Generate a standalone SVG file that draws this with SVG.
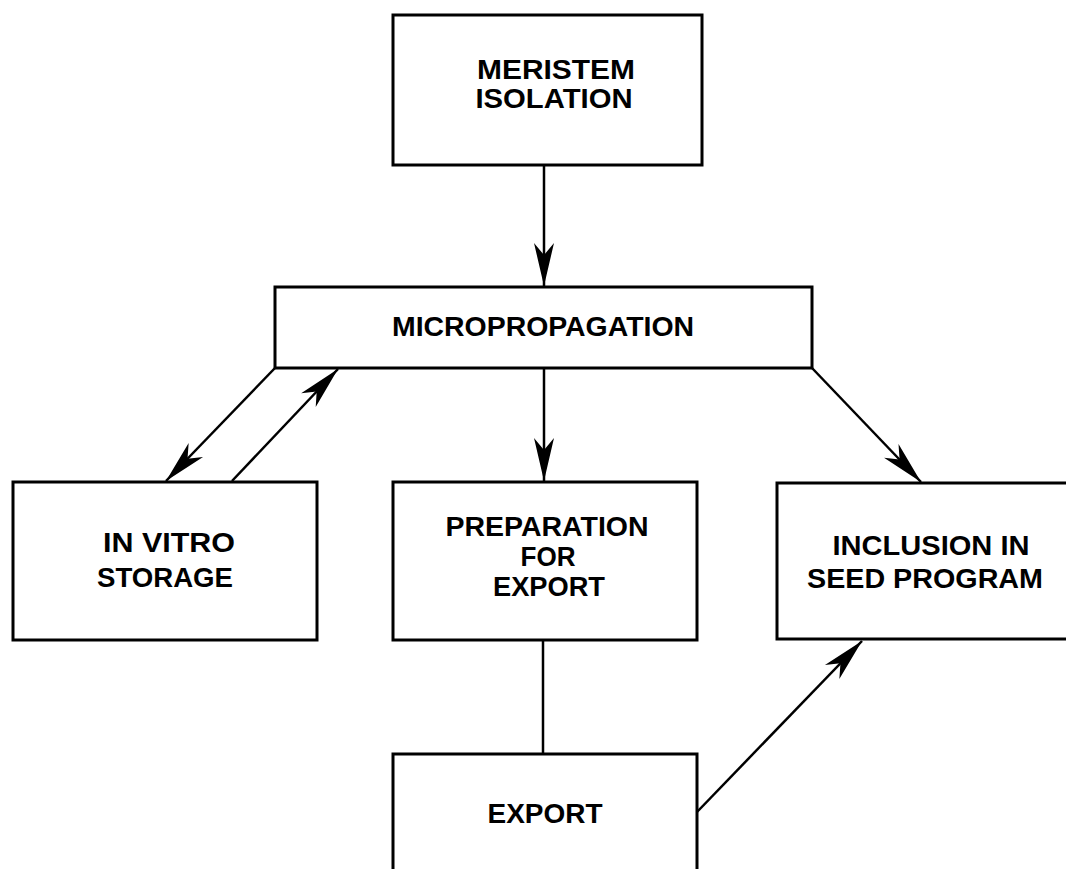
<svg xmlns="http://www.w3.org/2000/svg" width="1066" height="869" viewBox="0 0 1066 869">
  <style>
    .box { fill: #fff; stroke: #000; stroke-width: 3; }
    .lbl { font-family: "Liberation Sans", Arial, sans-serif; font-weight: bold; font-size: 27px; fill: #000; text-anchor: middle; }
    .edge { stroke: #000; stroke-width: 2.5; fill: none; }
  </style>
  <defs>
    <marker id="ah" markerUnits="userSpaceOnUse" markerWidth="48" markerHeight="24" viewBox="-46 -12 48 24" refX="0" refY="0" orient="auto">
      <path d="M0,0 L-43,-10 L-31,0 L-43,10 Z" fill="#000"/>
    </marker>
  </defs>
  <rect width="1066" height="869" fill="#fff"/>

  <g id="connectors">
    <line class="edge" x1="544" y1="165" x2="544" y2="286" marker-end="url(#ah)"/>
    <line class="edge" x1="275" y1="368" x2="166" y2="481" marker-end="url(#ah)"/>
    <line class="edge" x1="232" y1="481" x2="338" y2="369" marker-end="url(#ah)"/>
    <line class="edge" x1="544" y1="368" x2="544" y2="481" marker-end="url(#ah)"/>
    <line class="edge" x1="812" y1="368" x2="921" y2="482" marker-end="url(#ah)"/>
    <line class="edge" x1="543" y1="640" x2="543" y2="754"/>
    <line class="edge" x1="697" y1="812" x2="862" y2="641" marker-end="url(#ah)"/>
  </g>

  <g id="meristem">
    <rect class="box" x="393" y="15" width="309" height="150"/>
    <text class="lbl" x="556" y="79" textLength="158" lengthAdjust="spacingAndGlyphs">MERISTEM</text>
    <text class="lbl" x="554" y="108" textLength="157" lengthAdjust="spacingAndGlyphs">ISOLATION</text>
  </g>

  <g id="micropropagation">
    <rect class="box" x="275" y="287" width="537" height="81"/>
    <text class="lbl" x="543" y="336" textLength="302" lengthAdjust="spacingAndGlyphs">MICROPROPAGATION</text>
  </g>

  <g id="invitro">
    <rect class="box" x="13" y="482" width="304" height="158"/>
    <text class="lbl" x="169" y="552" textLength="132" lengthAdjust="spacingAndGlyphs">IN VITRO</text>
    <text class="lbl" x="165" y="587" textLength="136" lengthAdjust="spacingAndGlyphs">STORAGE</text>
  </g>

  <g id="preparation">
    <rect class="box" x="393" y="482" width="304" height="158"/>
    <text class="lbl" x="547" y="536" textLength="203" lengthAdjust="spacingAndGlyphs">PREPARATION</text>
    <text class="lbl" x="548" y="566" textLength="55" lengthAdjust="spacingAndGlyphs">FOR</text>
    <text class="lbl" x="549" y="596" textLength="112" lengthAdjust="spacingAndGlyphs">EXPORT</text>
  </g>

  <g id="inclusion">
    <rect class="box" x="777" y="483" width="310" height="156"/>
    <text class="lbl" x="931" y="555" textLength="197" lengthAdjust="spacingAndGlyphs">INCLUSION IN</text>
    <text class="lbl" x="925" y="588" textLength="236" lengthAdjust="spacingAndGlyphs">SEED PROGRAM</text>
  </g>

  <g id="export">
    <path class="box" d="M393,872 V754 H697 V872"/>
    <text class="lbl" x="545" y="823" textLength="115" lengthAdjust="spacingAndGlyphs">EXPORT</text>
  </g>
</svg>
